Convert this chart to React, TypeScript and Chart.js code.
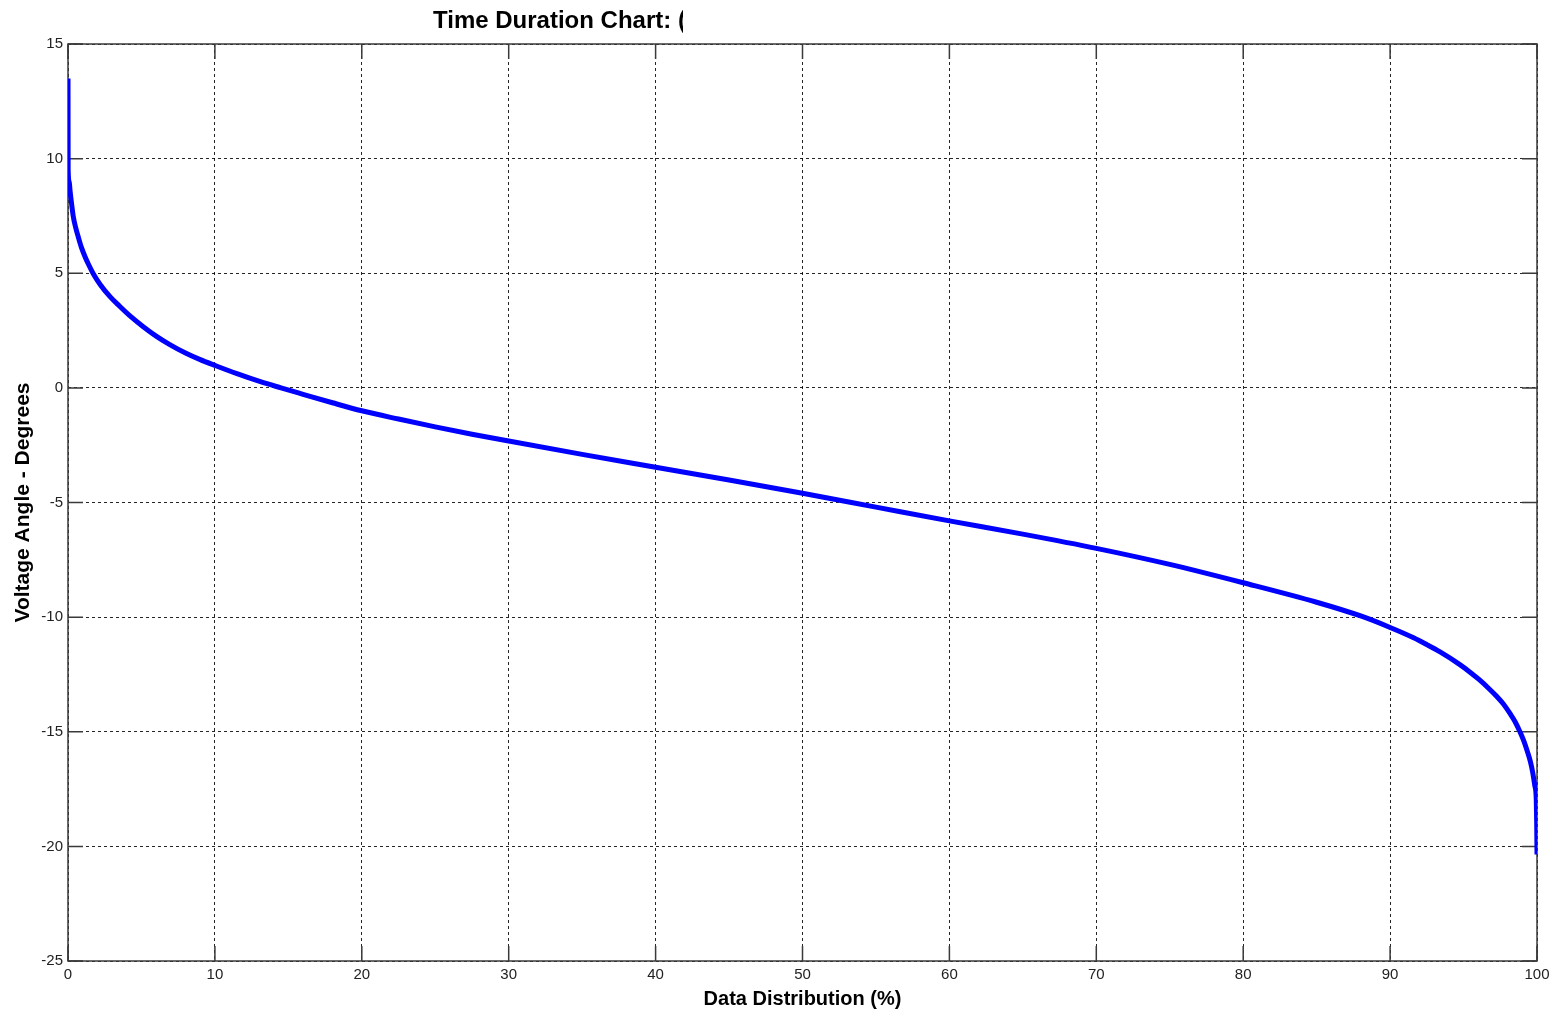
import React, { useEffect, useRef } from "react";
import { Chart, registerables } from "chart.js";

Chart.register(...registerables);

const chartTitle = "Time Duration Chart: (";
const xAxisTitle = "Data Distribution (%)";
const yAxisTitle = "Voltage Angle - Degrees";

const distributionPct = [
  0, 0.01, 0.08, 0.14, 0.25, 0.36, 0.5, 0.7, 0.9, 1.16, 1.4, 1.72, 2.2, 2.86, 3.5, 4.2, 5.1, 6.0, 6.9,
  8.0, 9.0, 10.0, 11.5, 13.1, 14.5, 16, 18, 20, 22.5, 25, 27.5, 30, 35, 40, 45, 50, 55, 60, 65, 70,
  75, 80, 85, 88, 90, 91.6, 92.5, 93.4, 94.7, 95.4, 96.05, 96.7, 97.25, 97.7, 98.16, 98.5, 98.84,
  99.1, 99.34, 99.55, 99.7, 99.85, 99.95, 99.98, 100,
];
const voltageAngleDeg = [
  13.5, 9.5, 9.0, 8.6, 8.0, 7.47, 7.05, 6.58, 6.15, 5.72, 5.38, 4.98, 4.5, 3.98, 3.57, 3.15, 2.68, 2.26, 1.9,
  1.52, 1.23, 0.98, 0.62, 0.27, 0.0, -0.28, -0.65, -1.0, -1.36, -1.7, -2.02, -2.32, -2.9, -3.46, -4.02, -4.6, -5.2, -5.8, -6.38, -7.0,
  -7.7, -8.5, -9.35, -9.95, -10.45, -10.9, -11.2, -11.52, -12.05, -12.38, -12.72, -13.1, -13.45, -13.78, -14.2, -14.55, -15.0,
  -15.4, -15.85, -16.3, -16.75, -17.35, -17.95, -19.0, -20.35,
];

const FONT = '"Liberation Sans", Arial, sans-serif';
const TICK_LEN = 15;

const framePlugin = {
  id: "matlabFrame",
  beforeDatasetsDraw(chart: any) {
    const { ctx, chartArea, scales } = chart;
    const { left, right, top, bottom } = chartArea;
    const xs = scales.x;
    const ys = scales.y;
    ctx.save();
    ctx.setLineDash([]);
    ctx.strokeStyle = "#3a3a3a";
    ctx.lineWidth = 1.5;
    ctx.beginPath();
    xs.ticks.forEach((t: any) => {
      const px = xs.getPixelForValue(t.value);
      ctx.moveTo(px, bottom);
      ctx.lineTo(px, bottom - TICK_LEN);
      ctx.moveTo(px, top);
      ctx.lineTo(px, top + TICK_LEN);
    });
    ys.ticks.forEach((t: any) => {
      const py = ys.getPixelForValue(t.value);
      ctx.moveTo(left, py);
      ctx.lineTo(left + TICK_LEN, py);
      ctx.moveTo(right, py);
      ctx.lineTo(right - TICK_LEN, py);
    });
    ctx.stroke();
    ctx.strokeRect(left, top, right - left, bottom - top);
    ctx.restore();
  },
};

const titlePlugin = {
  id: "clippedTitle",
  afterDraw(chart: any) {
    const { ctx } = chart;
    ctx.save();
    ctx.beginPath();
    ctx.rect(0, 0, 683, 42);
    ctx.clip();
    ctx.font = `bold 24px ${FONT}`;
    ctx.fillStyle = "#000";
    ctx.textBaseline = "middle";
    ctx.textAlign = "left";
    ctx.fillText(chartTitle, 433, 21);
    ctx.restore();
  },
};

export default function App() {
  const canvasRef = useRef<HTMLCanvasElement | null>(null);

  useEffect(() => {
    if (!canvasRef.current) return;
    const points = distributionPct.map((x, i) => ({ x, y: voltageAngleDeg[i] }));
    const chart = new Chart(canvasRef.current, {
      type: "line",
      data: {
        datasets: [
          {
            data: points,
            borderColor: "#0000ff",
            borderWidth: 5,
            pointRadius: 0,
            cubicInterpolationMode: "monotone",
            fill: false,
          },
        ],
      },
      plugins: [framePlugin, titlePlugin],
      options: {
        animation: false,
        responsive: false,
        layout: { padding: { left: 0, right: 24, top: 44, bottom: 0 } },
        plugins: {
          legend: { display: false },
          title: { display: false },
          tooltip: { enabled: false },
        },
        scales: {
          x: {
            type: "linear",
            min: 0,
            max: 100,
            afterFit: (scale: any) => {
              scale.height = 55;
            },
            ticks: {
              stepSize: 10,
              padding: 5,
              maxRotation: 0,
              color: "#222",
              font: { family: FONT, size: 15 },
            },
            grid: {
              color: "rgba(0,0,0,0.85)",
              lineWidth: 1,
              drawTicks: false,
            },
            border: { display: false, dash: [3, 3] },
            title: {
              display: true,
              text: xAxisTitle,
              color: "#000",
              font: { family: FONT, size: 20, weight: "bold" },
              padding: { top: 0, bottom: 5 },
            },
          },
          y: {
            type: "linear",
            min: -25,
            max: 15,
            afterFit: (scale: any) => {
              scale.width = 68;
            },
            ticks: {
              stepSize: 5,
              padding: 5,
              color: "#222",
              font: { family: FONT, size: 15 },
            },
            grid: {
              color: "rgba(0,0,0,0.85)",
              lineWidth: 1,
              drawTicks: false,
            },
            border: { display: false, dash: [3, 3] },
            title: {
              display: true,
              text: yAxisTitle,
              color: "#000",
              font: { family: FONT, size: 21, weight: "bold" },
              padding: { top: 11, bottom: 0 },
            },
          },
        },
      },
    });
    return () => chart.destroy();
  }, []);

  return (
    <div style={{ position: "absolute", left: 0, top: 0, width: 1561, height: 1016, background: "#fff" }}>
      <canvas ref={canvasRef} width={1561} height={1016} style={{ display: "block" }} />
    </div>
  );
}
